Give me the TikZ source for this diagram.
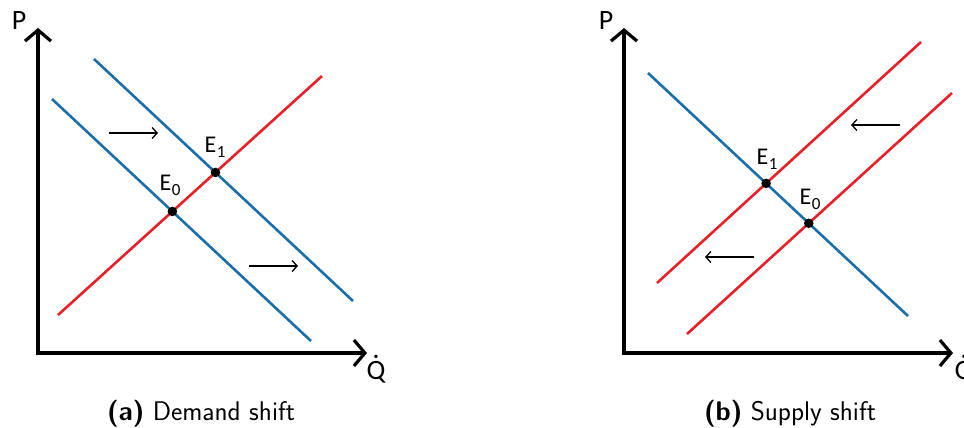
\documentclass[tikz,border=0pt]{standalone}
\usepackage{fontspec}
\newfontfamily\lblfont{Carlito}
\usetikzlibrary{arrows.meta,intersections}
\definecolor{dblue}{HTML}{1C6EA8}
\definecolor{sred}{HTML}{E8202A}
\newcommand\qdot{\accent"02D9 Q}
\newcommand\esub[1]{E\kern0.5pt\raisebox{-0.22em}{\fontsize{17}{18}\selectfont #1}}
\tikzset{
  axis/.style={line width=4pt, -{Straight Barb[length=11pt,width=26pt,line width=3.2pt]}},
  dcurve/.style={line width=2.6pt, dblue},
  scurve/.style={line width=2.6pt, sred},
  shiftarrow/.style={line width=1.4pt, -{Straight Barb[length=5pt,width=11pt,line width=1.3pt]}},
  lbl/.style={font=\lblfont\fontsize{28}{30}\selectfont, inner sep=0pt},
  elbl/.style={font=\lblfont\fontsize{24}{26}\selectfont, inner sep=0pt},
  captext/.style={font=\sffamily\fontsize{27}{30}\selectfont, inner sep=0pt},
  eqdot/.style={fill=black, circle, inner sep=0pt, minimum size=9.5pt}
}
\begin{document}
\begin{tikzpicture}[x=1pt,y=-1pt]
\useasboundingbox (0,0) rectangle (964,428);
% ---------- panel (a)
\draw[axis] (38,353) -- (38,28);
\draw[axis] (36,353) -- (367,353);
\node[lbl] (pa) at (19,21) {P};
\node[lbl] (qa) at (376,369) {\qdot};
\draw[scurve, name path=sa] (58,315) -- (322,76);
\draw[dcurve, name path=da0] (52,99) -- (311,341);
\draw[dcurve, name path=da1] (94,59) -- (353,301);
\path[name intersections={of=sa and da0, by=ea0}];
\path[name intersections={of=sa and da1, by=ea1}];
\node[eqdot] (dota0) at (ea0) {};
\node[eqdot] (dota1) at (ea1) {};
\node[elbl] (la0) at (170,185) {\esub{0}};
\node[elbl] (la1) at (215,147) {\esub{1}};
\coordinate (aa1s) at (109,133); \coordinate (aa1e) at (158,133);
\coordinate (aa2s) at (249,266); \coordinate (aa2e) at (298,266);
\draw[shiftarrow] (aa1s) -- (aa1e);
\draw[shiftarrow] (aa2s) -- (aa2e);
\node[captext] (capa) at (201,414) {\textbf{(a)}\ Demand shift};
% ---------- panel (b)
\draw[axis] (624,353) -- (624,28);
\draw[axis] (622,353) -- (953,353);
\node[lbl] (pb) at (606,21) {P};
\node[lbl] (qb) at (964,369) {\qdot};
\draw[dcurve, name path=db] (648,73) -- (908,316);
\draw[scurve, name path=sb1] (657,283) -- (921,42);
\draw[scurve, name path=sb0] (687,334) -- (952,93);
\path[name intersections={of=db and sb1, by=eb1}];
\path[name intersections={of=db and sb0, by=eb0}];
\node[eqdot] (dotb1) at (eb1) {};
\node[eqdot] (dotb0) at (eb0) {};
\node[elbl] (lb1) at (767,159) {\esub{1}};
\node[elbl] (lb0) at (810,199) {\esub{0}};
\coordinate (ab1s) at (900,125); \coordinate (ab1e) at (851,125);
\coordinate (ab2s) at (754,257); \coordinate (ab2e) at (705,257);
\draw[shiftarrow] (ab1s) -- (ab1e);
\draw[shiftarrow] (ab2s) -- (ab2e);
\node[captext] (capb) at (790,414) {\textbf{(b)}\ Supply shift};
\end{tikzpicture}
\end{document}
